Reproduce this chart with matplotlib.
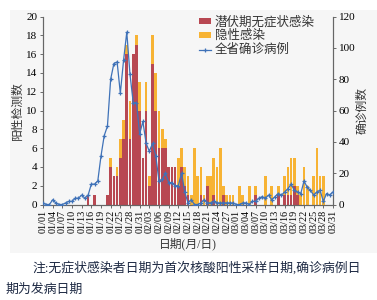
import numpy as np
import matplotlib
matplotlib.use("Agg")
import matplotlib.pyplot as plt
from matplotlib.patches import Rectangle
import datetime as dt

plt.rcParams['font.family'] = ['Liberation Serif', 'Noto Sans CJK SC']
plt.rcParams['axes.unicode_minus'] = False

# dates 01/01 .. 03/31 (leap year)
start = dt.date(2020, 1, 1)
dates = [start + dt.timedelta(days=i) for i in range(91)]
date_labels = [d.strftime('%m/%d') for d in dates]

# 潜伏期无症状感染 (red)
latent = [0]*14 + [1, 0, 1, 0, 0, 0, 1, 4, 3, 3, 5, 7, 16, 7, 16, 17, 10, 5, 10, 2,
          15, 10, 6, 6, 6, 4, 4, 4, 2, 4, 2, 1, 0, 0, 0, 1, 0, 2, 0, 1,
          0, 0, 1, 0, 0, 0,
          0, 0, 0, 0, 0, 0, 1, 0, 0, 0, 0, 0, 0, 1, 0, 1, 1, 1, 2, 1,
          0, 0, 0, 0, 0, 0, 0, 0, 0, 0, 0]
# total positives (red + 隐性感染)
total = [0]*14 + [1, 0, 1, 0, 0, 0, 1, 5, 3, 4, 7, 9, 17, 11, 16, 18, 13, 5, 13, 3,
         18, 14, 10, 8, 7, 4, 4, 4, 5, 6, 4, 3, 1, 6, 3, 4, 1, 3, 3, 5,
         4, 6, 2, 1, 1, 1,
         0, 2, 1, 0, 2, 0, 2, 0, 0, 3, 0, 2, 0, 2, 0, 3, 4, 5, 5, 2,
         1, 4, 2, 0, 3, 6, 3, 3, 0, 0, 0]
# 全省确诊病例
confirmed = [1, 0, 0, 3, 1, 0, 0, 1, 2, 2, 4, 4, 6, 4, 6, 13, 13, 15, 31, 44,
             50, 80, 90, 91, 71, 92, 110, 83, 65, 65, 45, 53, 39, 34, 39, 31, 15, 16, 20, 14,
             14, 12, 12, 20, 8, 1, 3, 0, 0, 1, 3, 1, 1, 2, 1, 1, 1, 1, 1, 1,
             0, 0, 1, 1, 0, 2, 2, 4, 5, 4, 6, 3, 5, 7, 6, 8, 10, 13, 9, 8,
             7, 15, 11, 9, 6, 8, 9, 2, 7, 6, 8]

latent = np.array(latent)
total = np.array(total)
hidden = total - latent
x = np.arange(len(dates))

fig = plt.figure(figsize=(3.77, 3.0), dpi=100)
fig.patches.append(Rectangle((10/377, 1-253/300), 1, 243/300, transform=fig.transFigure,
                             facecolor='#f6f6f6', edgecolor='none', zorder=-10))

ax = fig.add_axes([43/377, 1-204.5/300, 290/377, 188/300])
ax.patch.set_alpha(0)
ax.bar(x, latent, width=0.8, color='#b84852', label='潜伏期无症状感染', zorder=2)
ax.bar(x, hidden, width=0.8, bottom=latent, color='#f7b334', label='隐性感染', zorder=2)
ax.set_xlim(0, 90)
ax.set_ylim(0, 20)
ax.set_yticks(range(0, 21, 2))
ax.set_xticks(x[::3])
ax.set_xticklabels(date_labels[::3], rotation=90)
ax.tick_params(axis='y', labelsize=8, length=2.5, width=0.6, color='#555555', pad=1.5)
ax.tick_params(axis='x', labelsize=7.3, length=2.5, width=0.6, color='#555555', pad=1.5)
ax.set_ylabel('阳性检测数', fontsize=8.5, color='#333333', labelpad=2)
ax.set_xlabel('日期(月/日)', fontsize=8.5, color='#333333', labelpad=3)

ax2 = ax.twinx()
ax2.plot(x, confirmed, color='#3f72b8', lw=0.9, marker='+', ms=3, mew=0.9,
         label='全省确诊病例', zorder=3)
ax2.set_ylim(0, 120)
ax2.set_yticks(range(0, 121, 20))
ax2.tick_params(labelsize=8, length=2.5, width=0.6, color='#555555', pad=1.5)
ax2.set_ylabel('确诊例数', fontsize=8.5, color='#333333', labelpad=1, rotation=90)

for a in (ax, ax2):
    a.spines['top'].set_visible(False)
    for s in ('left', 'right', 'bottom'):
        a.spines[s].set_color('#666666')
        a.spines[s].set_linewidth(0.8)

h1, l1 = ax.get_legend_handles_labels()
h2, l2 = ax2.get_legend_handles_labels()
ax2.legend(h1 + h2, l1 + l2, loc='upper right', bbox_to_anchor=(0.955, 1.03),
           frameon=False, fontsize=9, handlelength=0.9, handleheight=0.35,
           labelspacing=0.15, borderaxespad=0.0, handletextpad=0.35,
           labelcolor='#333333')

fig.text(32/377, 1-268/300, '注:无症状感染者日期为首次核酸阳性采样日期,确诊病例日',
         fontsize=9.3, color='#1e2a44', va='center', ha='left')
fig.text(6/377, 1-290/300, '期为发病日期', fontsize=9.3, color='#1e2a44',
         va='center', ha='left')

fig.savefig('out.png', dpi=100)
